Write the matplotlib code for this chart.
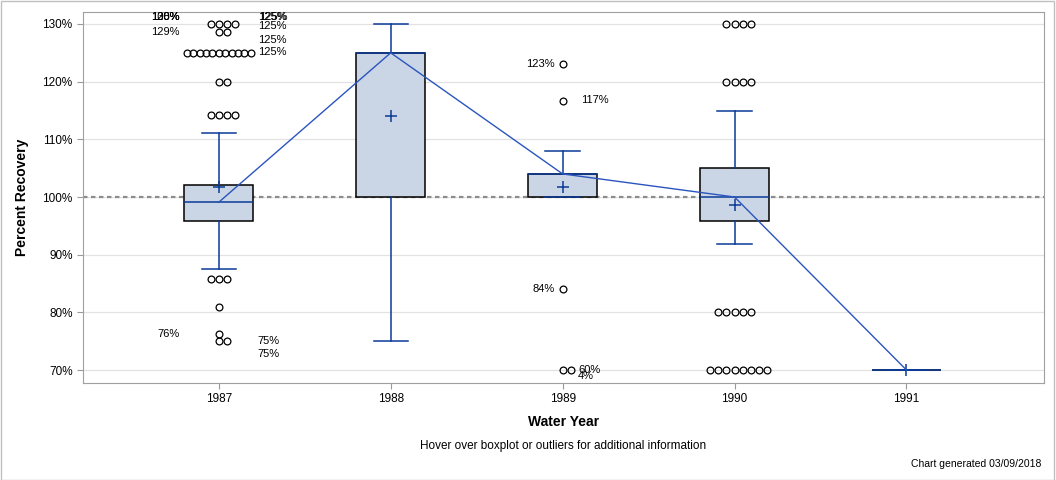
import matplotlib.pyplot as plt
import numpy as np

plt.rcParams['font.family'] = ['Liberation Sans', 'DejaVu Sans']

# box statistics (percent recovery)
years = ['1987', '1988', '1989', '1990', '1991']
q1 = [95.8, 100.0, 100.0, 95.8, 70.0]
med = [99.1, 125.0, 104.0, 100.0, 70.0]
q3 = [102.1, 125.0, 104.0, 105.0, 70.0]
whislo = [87.5, 75.0, 100.0, 91.8, 70.0]
whishi = [111.1, 130.0, 108.0, 114.9, 70.0]
means = [101.7, 114.0, 101.7, 98.7, 70.0]

# outliers per year (values below the axis are drawn at 70%)
outliers = [
    [130]*4 + [128.6]*2 + [125]*11 + [120]*2 + [114.3]*4 + [85.7]*3 + [81.0, 76.2] + [75]*2,
    [],
    [123.1, 116.7, 84.0, 60.0, 4.0],
    [130]*4 + [120]*4 + [80]*5 + [70]*8,
    [],
]

# outlier labels: year index, text, x offset (box units), y, alignment
out_labels = [
    (0, '130%', -0.227, 131.2, 'right'),
    (0, '128%', -0.227, 131.2, 'right'),
    (0, '100%', -0.227, 131.2, 'right'),
    (0, '129%', -0.227, 128.6, 'right'),
    (0, '76%', -0.227, 76.2, 'right'),
    (0, '125%', 0.227, 131.2, 'left'),
    (0, '125%', 0.232, 131.2, 'left'),
    (0, '125%', 0.227, 129.7, 'left'),
    (0, '125%', 0.227, 127.2, 'left'),
    (0, '125%', 0.227, 125.1, 'left'),
    (0, '75%', 0.227, 75.0, 'left'),
    (0, '75%', 0.227, 72.8, 'left'),
    (2, '123%', -0.047, 123.1, 'right'),
    (2, '117%', 0.105, 116.8, 'left'),
    (2, '84%', -0.047, 84.0, 'right'),
    (2, '60%', 0.093, 70.0, 'left'),
    (2, '4%', 0.088, 69.0, 'left'),
]

ymin, ymax = 67.75, 132.08
blue = '#0B3A97'
fill = '#CAD5E5'

fig = plt.figure(figsize=(10.56, 4.8), dpi=100)
ax = fig.add_axes([83/1056, 1-383/480, (1044-83)/1056, (383-12)/480])

stats = []
for i in range(len(years)):
    stats.append(dict(label=years[i], q1=q1[i], med=med[i], q3=q3[i],
                      whislo=whislo[i], whishi=whishi[i], mean=means[i], fliers=[]))

ax.bxp(stats, positions=range(len(years)), widths=0.4, capwidths=0.2,
       patch_artist=True, showmeans=True, showfliers=False,
       boxprops=dict(facecolor=fill, edgecolor='black', linewidth=1.1),
       whiskerprops=dict(color=blue, linewidth=1.1),
       capprops=dict(color=blue, linewidth=1.1),
       medianprops=dict(color=blue, linewidth=1.1),
       meanprops=dict(marker='+', markeredgecolor=blue, markersize=8, markeredgewidth=1.1))

# medians connected
ax.plot(range(len(years)), med, color='#2A55BE', lw=1, zorder=4)

# outliers, stacked sideways when they coincide
for i, vals in enumerate(outliers):
    shown = np.clip(vals, 70, None)
    for v in np.unique(shown):
        n = int(np.sum(shown == v))
        step = 0.037 if n > 8 else 0.047
        ks = np.arange(n) - (n - 1) // 2
        ax.plot(i + ks*step, [v]*n, 'o', mfc='none', mec='black', ms=4.9, mew=0.9,
                zorder=5, clip_on=False)

for i, txt, dx, y, ha in out_labels:
    ax.text(i + dx, y, txt, ha=ha, va='center', fontsize=8)

ax.axhline(100, color='#8C8C8C', ls=(0, (2, 1.6)), lw=1.6, zorder=1)

ax.set_xlim(-0.79, 4.8)
ax.set_ylim(ymin, ymax)
yt = np.arange(70, 131, 10)
ax.set_yticks(yt)
ax.set_yticklabels(['%d%%' % v for v in yt], fontsize=8.5)
ax.set_xticks(range(len(years)))
ax.set_xticklabels(years, fontsize=8.5)
ax.yaxis.grid(True, color='#E2E2E2', lw=0.9)
ax.set_axisbelow(True)
ax.tick_params(colors='#999999', labelcolor='black', length=4)
for s in ax.spines.values():
    s.set_color('#A0A0A0')

fig.text(22/1056, 0.589, 'Percent Recovery', rotation=90, ha='center', va='center',
         fontsize=10, fontweight='bold')
fig.text(563.5/1056, 1-422/480, 'Water Year', ha='center', va='center',
         fontsize=10, fontweight='bold')
fig.text(563.5/1056, 1-446/480, 'Hover over boxplot or outliers for additional information',
         ha='center', va='center', fontsize=8.5)
fig.text(1041/1056, 1-464/480, 'Chart generated 03/09/2018', ha='right', va='center',
         fontsize=7.5)
fig.add_artist(plt.Rectangle((0.0005, 0.001), 0.998, 0.997, transform=fig.transFigure,
                             fill=False, ec='#C0C0C0', lw=1))

fig.savefig('out.png', dpi=100)
